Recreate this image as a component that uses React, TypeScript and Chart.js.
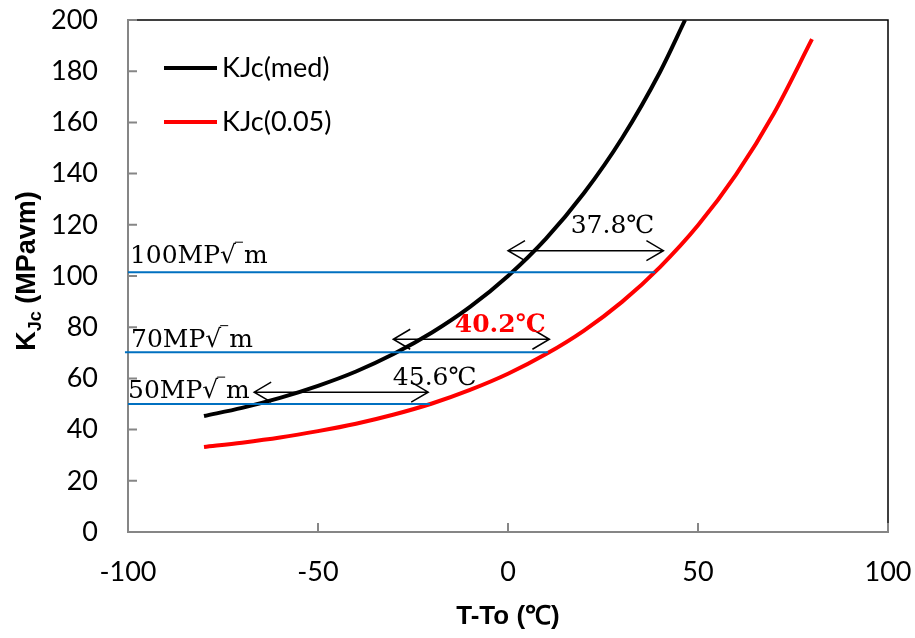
import React, { useEffect, useRef } from "react";
import { Chart, registerables } from "chart.js";
Chart.register(...registerables);

// KJc(med) curve
const tempMed = [-80, -70, -60, -50, -40, -30, -20, -10, 0, 10, 20, 30, 40, 46.6];
const kjcMed = [45.3, 48.5, 52.4, 57.1, 62.7, 69.6, 77.9, 87.9, 100, 114.6, 132.4, 153.8, 179.7, 200];
// KJc(0.05) curve
const temp005 = [-80, -70, -60, -50, -40, -30, -20, -10, 0, 10, 20, 30, 40, 50, 60, 70, 80];
const kjc005 = [33.2, 34.9, 36.9, 39.4, 42.3, 45.9, 50.2, 55.5, 61.8, 69.5, 78.7, 89.9, 103.5, 119.8, 139.6, 163.6, 192.5];

// horizontal reference levels
const refLevels = [101.5, 70.2, 50];
const refStart = [-100, -100.8, -100];
const refEnd = [38.7, 10.5, -20.5];

// double arrows
const arrowY = [109.9, 75.3, 54.6];
const arrowFrom = [0, -30.2, -66.8];
const arrowTo = [40.9, 10.9, -21];

// text labels
const noteTexts = ["100MP√ m", "70MP√ m", "50MP√ m", "37.8℃", "40.2℃", "45.6℃"];
const noteX = [-99.5, -99.2, -100, 16.5, -14, -30.3];
const noteY = [105, 72.4, 52.3, 116.8, 78.2, 57.4];
const noteColor = ["#000", "#000", "#000", "#000", "#ff0000", "#000"];
const noteBold = [false, false, false, false, true, false];

const legendLabels = ["KJc(med)", "KJc(0.05)"];
const legendColors = ["#000000", "#ff0000"];

const xTicks = [-100, -50, 0, 50, 100];
const yTicks = [0, 20, 40, 60, 80, 100, 120, 140, 160, 180, 200];

const SERIF = "'DejaVu Serif', serif";
const SANS = "Lato, 'Noto Sans', sans-serif";
const BOLD = "'Liberation Sans', Arial, sans-serif";

const decorPlugin = {
  id: "decor",
  afterDatasetsDraw(chart: any) {
    const { ctx, chartArea, scales } = chart;
    const xs = scales.x;
    const ys = scales.y;
    const { left, right, top, bottom } = chartArea;
    ctx.save();
    // top/right frame
    ctx.strokeStyle = "#000";
    ctx.lineWidth = 1.5;
    ctx.beginPath();
    ctx.moveTo(left, top);
    ctx.lineTo(right, top);
    ctx.lineTo(right, bottom);
    ctx.stroke();
    // inward ticks
    ctx.strokeStyle = "#868686";
    ctx.lineWidth = 2;
    ctx.beginPath();
    yTicks.forEach((v) => {
      const py = ys.getPixelForValue(v);
      ctx.moveTo(left, py);
      ctx.lineTo(left + 9, py);
    });
    xTicks.forEach((v) => {
      const px = xs.getPixelForValue(v);
      ctx.moveTo(px, bottom);
      ctx.lineTo(px, bottom - 9);
    });
    ctx.stroke();

    // arrows
    ctx.strokeStyle = "#000";
    ctx.lineWidth = 1.5;
    arrowY.forEach((v, i) => {
      const py = ys.getPixelForValue(v);
      const x1 = xs.getPixelForValue(arrowFrom[i]);
      const x2 = xs.getPixelForValue(arrowTo[i]);
      ctx.beginPath();
      ctx.moveTo(x1, py);
      ctx.lineTo(x2, py);
      ctx.moveTo(x1 + 17, py - 10);
      ctx.lineTo(x1, py);
      ctx.lineTo(x1 + 17, py + 10);
      ctx.moveTo(x2 - 17, py - 10);
      ctx.lineTo(x2, py);
      ctx.lineTo(x2 - 17, py + 10);
      ctx.stroke();
    });

    // notes
    ctx.textBaseline = "alphabetic";
    ctx.textAlign = "left";
    noteTexts.forEach((t, i) => {
      const px = xs.getPixelForValue(noteX[i]);
      const py = ys.getPixelForValue(noteY[i]);
      ctx.font = (noteBold[i] ? "bold " : "") + "25px " + SERIF;
      ctx.fillStyle = noteColor[i];
      ctx.fillText(t, px, py);
      const k = t.indexOf("√");
      if (k >= 0) {
        const w = ctx.measureText(t.slice(0, k + 1)).width;
        ctx.strokeStyle = noteColor[i];
        ctx.lineWidth = 1;
        ctx.beginPath();
        ctx.moveTo(px + w - 1, py - 21);
        ctx.lineTo(px + w + 7, py - 21);
        ctx.stroke();
      }
    });

    // legend
    ctx.font = "27px " + SANS;
    ctx.textBaseline = "middle";
    legendLabels.forEach((l, i) => {
      const ly = top + 48 + i * 54;
      ctx.strokeStyle = legendColors[i];
      ctx.lineWidth = 4;
      ctx.beginPath();
      ctx.moveTo(left + 36, ly);
      ctx.lineTo(left + 89, ly);
      ctx.stroke();
      ctx.fillStyle = "#000";
      ctx.fillText(l, left + 94, ly);
    });

    // axis titles
    ctx.fillStyle = "#000";
    ctx.textAlign = "center";
    ctx.textBaseline = "middle";
    ctx.font = "bold 26px " + BOLD;
    ctx.fillText("T-To (℃)", (left + right) / 2, 617);

    ctx.translate(25, 271);
    ctx.rotate(-Math.PI / 2);
    ctx.textAlign = "left";
    ctx.textBaseline = "alphabetic";
    const segs = [
      { t: "K", f: "bold 27px " + BOLD, dy: 0 },
      { t: "Jc", f: "bold 18px " + BOLD, dy: 6 },
      { t: " (MPavm)", f: "bold 27px " + BOLD, dy: 0 },
    ];
    let total = 0;
    segs.forEach((s) => {
      ctx.font = s.f;
      total += ctx.measureText(s.t).width;
    });
    let cx = -total / 2;
    segs.forEach((s) => {
      ctx.font = s.f;
      ctx.fillText(s.t, cx, 10 + s.dy);
      cx += ctx.measureText(s.t).width;
    });
    ctx.restore();
  },
};

export default function App() {
  const ref = useRef<HTMLCanvasElement | null>(null);
  useEffect(() => {
    if (!ref.current) return;
    const refSets = refLevels.map((lv, i) => ({
      data: [
        { x: refStart[i], y: lv },
        { x: refEnd[i], y: lv },
      ],
      borderColor: "#0070c0",
      borderWidth: 2,
      pointRadius: 0,
      fill: false,
      clip: false as any,
      order: 0,
      showLine: true,
    }));
    const chart = new Chart(ref.current, {
      type: "scatter",
      data: {
        datasets: [
          {
            label: legendLabels[0],
            data: tempMed.map((t, i) => ({ x: t, y: kjcMed[i] })),
            showLine: true,
            borderColor: "#000",
            borderWidth: 4,
            pointRadius: 0,
            cubicInterpolationMode: "monotone",
            order: 2,
          },
          {
            label: legendLabels[1],
            data: temp005.map((t, i) => ({ x: t, y: kjc005[i] })),
            showLine: true,
            borderColor: "#ff0000",
            borderWidth: 4,
            pointRadius: 0,
            cubicInterpolationMode: "monotone",
            order: 2,
          },
          ...refSets,
        ] as any,
      },
      options: {
        animation: false,
        responsive: false,
        layout: { padding: { left: 0, right: 27, top: 20, bottom: 0 } },
        plugins: { legend: { display: false }, tooltip: { enabled: false } },
        scales: {
          x: {
            type: "linear",
            min: -100,
            max: 100,
            afterFit: (s: any) => {
              s.height = 106;
              s.paddingLeft = 0;
              s.paddingRight = 0;
            },
            afterBuildTicks: (s: any) => {
              s.ticks = xTicks.map((v) => ({ value: v }));
            },
            grid: { display: false, drawTicks: false },
            border: { display: true, color: "#868686", width: 2 },
            ticks: {
              color: "#000",
              padding: 24,
              maxRotation: 0,
              font: { family: SANS, size: 27 },
            },
          },
          y: {
            type: "linear",
            min: 0,
            max: 200,
            afterFit: (s: any) => {
              s.width = 128;
              s.paddingTop = 0;
              s.paddingBottom = 0;
            },
            afterBuildTicks: (s: any) => {
              s.ticks = yTicks.map((v) => ({ value: v }));
            },
            grid: { display: false, drawTicks: false },
            border: { display: true, color: "#868686", width: 2 },
            ticks: {
              color: "#000",
              padding: 30,
              font: { family: SANS, size: 27 },
            },
          },
        },
      },
      plugins: [decorPlugin],
    });
    return () => chart.destroy();
  }, []);
  return (
    <div style={{ position: "absolute", left: 0, top: 0, width: 915, height: 638, background: "#fff" }}>
      <canvas ref={ref} width={915} height={638} style={{ display: "block" }} />
    </div>
  );
}
